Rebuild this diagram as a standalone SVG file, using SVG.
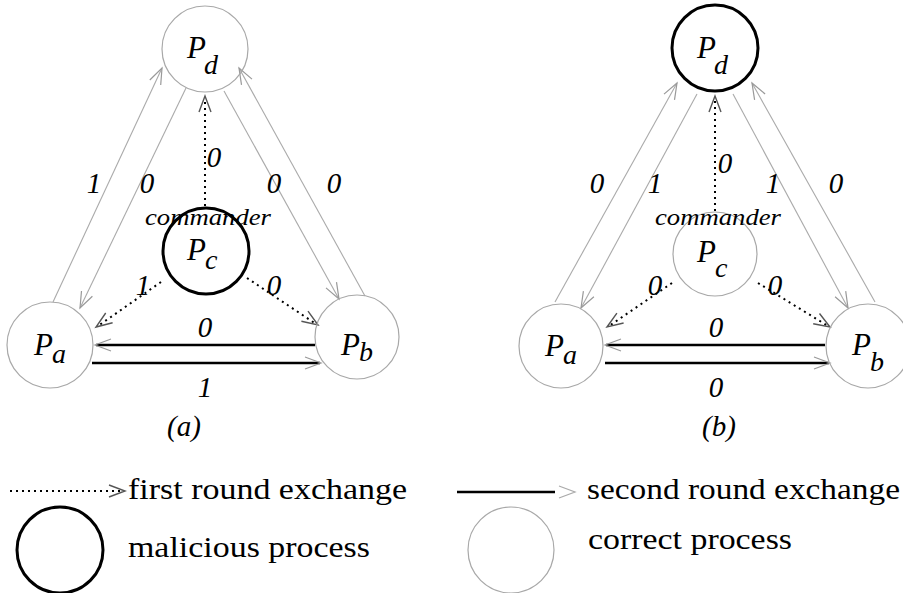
<svg xmlns="http://www.w3.org/2000/svg" width="903" height="593" viewBox="0 0 903 593">
<rect width="903" height="593" fill="#fff"/>

<g id="connectors" fill="none">
<g stroke="#aaa" stroke-width="1.1">
<line x1="53" y1="302" x2="162" y2="68"/>
<line x1="186" y1="88" x2="80" y2="308"/>
<line x1="224" y1="91" x2="339" y2="299"/>
<line x1="365" y1="296" x2="239" y2="68"/>
<line x1="555" y1="302" x2="677" y2="83"/>
<line x1="697" y1="94" x2="581" y2="308"/>
<line x1="733" y1="94" x2="848" y2="308"/>
<line x1="875" y1="302" x2="752" y2="83"/>
</g>
<g stroke="#000" stroke-width="2" stroke-dasharray="2,4">
<line x1="205" y1="206" x2="205" y2="98"/>
<line x1="161" y1="282" x2="98" y2="326"/>
<line x1="247" y1="278" x2="316" y2="324"/>
<line x1="715" y1="211" x2="715" y2="98"/>
<line x1="672" y1="283" x2="609" y2="326"/>
<line x1="758" y1="283" x2="828" y2="326"/>
</g>
<g stroke="#000" stroke-width="2.5">
<line x1="315" y1="345" x2="96" y2="345"/>
<line x1="92" y1="363" x2="320" y2="363"/>
<line x1="825" y1="345" x2="606" y2="345"/>
<line x1="605" y1="363" x2="829" y2="363"/>
</g>
<g id="arrowheads-gray" stroke="#999" stroke-width="1.2">
<path d="M160.7,85.0 L162,68 L149.8,80.0"/>
<path d="M81.5,291.0 L80,308 L92.4,296.2"/>
<path d="M336.5,282.1 L339,299 L326.0,287.9"/>
<path d="M252.0,79.1 L239,68 L241.5,84.9"/>
<path d="M674.5,99.9 L677,83 L664.0,94.1"/>
<path d="M583.4,291.1 L581,308 L593.9,296.8"/>
<path d="M845.7,291.1 L848,308 L835.1,296.7"/>
<path d="M765.1,94.0 L752,83 L754.6,99.9"/>
<path d="M111,339 L95,345 L111,351"/>
<path d="M305,357 L321,363 L305,369"/>
<path d="M621,339 L605,345 L621,351"/>
<path d="M814,357 L830,363 L814,369"/>
</g>
<g id="arrowheads-dark" stroke="#555" stroke-width="1.4">
<path d="M199,112 L205,96 L211,112"/>
<path d="M105.7,313.0 L96,327 L112.6,322.8"/>
<path d="M308.0,311.2 L318,325 L301.4,321.2"/>
<path d="M709,112 L715,96 L721,112"/>
<path d="M616.9,313.1 L607,327 L623.6,323.0"/>
<path d="M819.5,313.5 L830,327 L813.2,323.8"/>
</g>
</g>

<g id="nodes">
<g fill="none" stroke="#a8a8a8" stroke-width="1.2">
<circle cx="205" cy="49" r="43"/>
<circle cx="50" cy="345" r="43"/>
<circle cx="357" cy="337" r="42"/>
<circle cx="715" cy="254" r="42"/>
<circle cx="561" cy="346" r="42"/>
<circle cx="868" cy="346" r="42"/>
</g>
<g fill="none" stroke="#000" stroke-width="3">
<circle cx="206" cy="251" r="43"/>
<circle cx="715" cy="48" r="43"/>
</g>
</g>

<g id="a-Pd"><text x="187" y="58" style="font-family:'Liberation Serif',serif;font-style:italic;font-size:31px">P</text><text x="204" y="74" style="font-family:'Liberation Serif',serif;font-style:italic;font-size:28px">d</text></g>
<g id="a-Pc"><text x="187" y="260" style="font-family:'Liberation Serif',serif;font-style:italic;font-size:31px">P</text><text x="205" y="269" style="font-family:'Liberation Serif',serif;font-style:italic;font-size:28px">c</text></g>
<g id="a-Pa"><text x="34" y="355" style="font-family:'Liberation Serif',serif;font-style:italic;font-size:31px">P</text><text x="52" y="363" style="font-family:'Liberation Serif',serif;font-style:italic;font-size:28px">a</text></g>
<g id="a-Pb"><text x="341" y="355" style="font-family:'Liberation Serif',serif;font-style:italic;font-size:31px">P</text><text x="359" y="361" style="font-family:'Liberation Serif',serif;font-style:italic;font-size:28px">b</text></g>
<g id="b-Pd"><text x="697" y="58" style="font-family:'Liberation Serif',serif;font-style:italic;font-size:31px">P</text><text x="714" y="74" style="font-family:'Liberation Serif',serif;font-style:italic;font-size:28px">d</text></g>
<g id="b-Pc"><text x="697" y="262" style="font-family:'Liberation Serif',serif;font-style:italic;font-size:31px">P</text><text x="715" y="277" style="font-family:'Liberation Serif',serif;font-style:italic;font-size:28px">c</text></g>
<g id="b-Pa"><text x="545" y="356" style="font-family:'Liberation Serif',serif;font-style:italic;font-size:31px">P</text><text x="563" y="364" style="font-family:'Liberation Serif',serif;font-style:italic;font-size:28px">a</text></g>
<g id="b-Pb"><text x="852" y="355" style="font-family:'Liberation Serif',serif;font-style:italic;font-size:31px">P</text><text x="870" y="371" style="font-family:'Liberation Serif',serif;font-style:italic;font-size:28px">b</text></g>

<g id="labels-a" text-anchor="middle">
<text x="94" y="193" style="font-family:'Liberation Serif',serif;font-style:italic;font-size:29px">1</text>
<text x="147" y="193" style="font-family:'Liberation Serif',serif;font-style:italic;font-size:29px">0</text>
<text x="214" y="167" style="font-family:'Liberation Serif',serif;font-style:italic;font-size:29px">0</text>
<text x="274" y="193" style="font-family:'Liberation Serif',serif;font-style:italic;font-size:29px">0</text>
<text x="334" y="193" style="font-family:'Liberation Serif',serif;font-style:italic;font-size:29px">0</text>
<text x="208" y="225" style="font-family:'Liberation Serif',serif;font-style:italic;font-size:23px" textLength="126" lengthAdjust="spacingAndGlyphs">commander</text>
<text x="143" y="295" style="font-family:'Liberation Serif',serif;font-style:italic;font-size:29px">1</text>
<text x="274" y="295" style="font-family:'Liberation Serif',serif;font-style:italic;font-size:29px">0</text>
<text x="205" y="337" style="font-family:'Liberation Serif',serif;font-style:italic;font-size:29px">0</text>
<text x="205" y="397" style="font-family:'Liberation Serif',serif;font-style:italic;font-size:29px">1</text>
<text x="184" y="436" style="font-family:'Liberation Serif',serif;font-style:italic;font-size:29px">(a)</text>
</g>
<g id="labels-b" text-anchor="middle">
<text x="597" y="193" style="font-family:'Liberation Serif',serif;font-style:italic;font-size:29px">0</text>
<text x="655" y="193" style="font-family:'Liberation Serif',serif;font-style:italic;font-size:29px">1</text>
<text x="725" y="173" style="font-family:'Liberation Serif',serif;font-style:italic;font-size:29px">0</text>
<text x="773" y="193" style="font-family:'Liberation Serif',serif;font-style:italic;font-size:29px">1</text>
<text x="836" y="193" style="font-family:'Liberation Serif',serif;font-style:italic;font-size:29px">0</text>
<text x="718" y="225" style="font-family:'Liberation Serif',serif;font-style:italic;font-size:23px" textLength="126" lengthAdjust="spacingAndGlyphs">commander</text>
<text x="655" y="295" style="font-family:'Liberation Serif',serif;font-style:italic;font-size:29px">0</text>
<text x="775" y="295" style="font-family:'Liberation Serif',serif;font-style:italic;font-size:29px">0</text>
<text x="716" y="337" style="font-family:'Liberation Serif',serif;font-style:italic;font-size:29px">0</text>
<text x="716" y="397" style="font-family:'Liberation Serif',serif;font-style:italic;font-size:29px">0</text>
<text x="719" y="436" style="font-family:'Liberation Serif',serif;font-style:italic;font-size:29px">(b)</text>
</g>

<g id="legend">
<line x1="10" y1="491" x2="123" y2="491" stroke="#000" stroke-width="2" stroke-dasharray="2,4"/>
<path d="M109,485 L125,491 L109,497" fill="none" stroke="#555" stroke-width="1.4"/>
<text x="128" y="499" style="font-family:'Liberation Serif',serif;font-size:30px" textLength="279" lengthAdjust="spacingAndGlyphs">first round exchange</text>
<line x1="457" y1="492" x2="555" y2="492" stroke="#000" stroke-width="2.5"/>
<path d="M559,486 L575,492 L559,498" fill="none" stroke="#aaa" stroke-width="1.2"/>
<text x="587" y="499" style="font-family:'Liberation Serif',serif;font-size:30px" textLength="313" lengthAdjust="spacingAndGlyphs">second round exchange</text>
<circle cx="60" cy="550" r="43" fill="none" stroke="#000" stroke-width="3"/>
<text x="128" y="557" style="font-family:'Liberation Serif',serif;font-size:30px" textLength="242" lengthAdjust="spacingAndGlyphs">malicious process</text>
<circle cx="511" cy="550" r="43" fill="none" stroke="#a8a8a8" stroke-width="1.2"/>
<text x="588" y="549" style="font-family:'Liberation Serif',serif;font-size:30px" textLength="204" lengthAdjust="spacingAndGlyphs">correct process</text>
</g>
</svg>
